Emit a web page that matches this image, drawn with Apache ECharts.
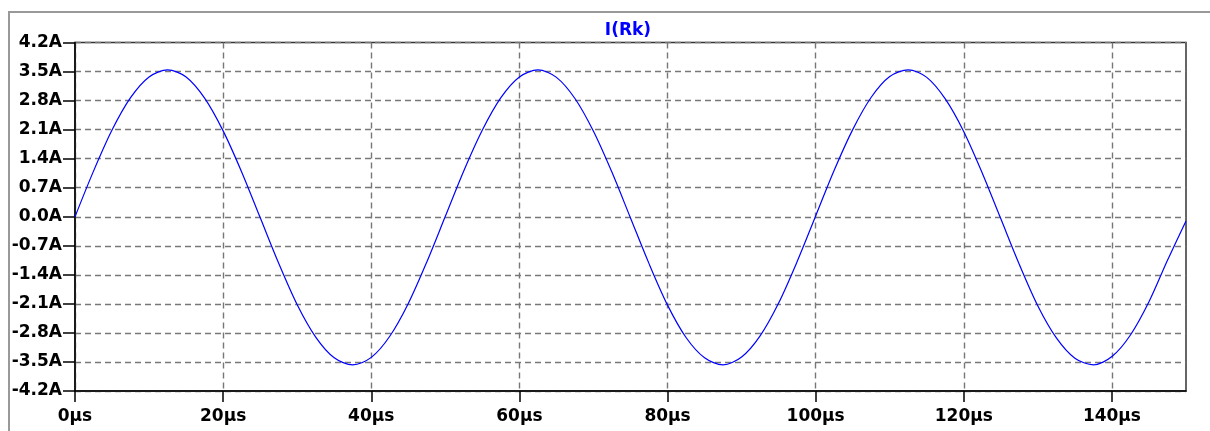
<!DOCTYPE html>
<html>
<head>
<meta charset="utf-8">
<script src="https://cdn.jsdelivr.net/npm/echarts@6/dist/echarts.min.js"></script>
<style>
html,body{margin:0;padding:0;background:#fff;}
#chart{width:1210px;height:431px;}
</style>
</head>
<body>
<div id="chart"></div>
<script>
// Time in µs
var times = [0,2.5,5,7.5,10,12.5,15,17.5,20,22.5,25,27.5,30,32.5,35,37.5,40,42.5,45,47.5,50,
  52.5,55,57.5,60,62.5,65,67.5,70,72.5,75,77.5,80,82.5,85,87.5,90,92.5,95,97.5,100,
  102.5,105,107.5,110,112.5,115,117.5,120,122.5,125,127.5,130,132.5,135,137.5,140,142.5,145,147.5,150];
// I(Rk) in A
var current = [0,1.10,2.09,2.87,3.37,3.54,3.37,2.86,2.07,1.08,-0.02,-1.12,-2.12,-2.90,-3.40,-3.57,-3.39,-2.88,-2.09,-1.09,0.01,
  1.11,2.09,2.87,3.37,3.54,3.36,2.85,2.06,1.07,-0.03,-1.13,-2.13,-2.91,-3.40,-3.57,-3.38,-2.87,-2.08,-1.08,0.02,
  1.12,2.10,2.88,3.38,3.54,3.36,2.84,2.05,1.05,-0.05,-1.15,-2.15,-2.92,-3.41,-3.57,-3.37,-2.85,-2.05,-1.05,-0.10];
var xTicks = [0,20,40,60,80,100,120,140];
var seriesName = 'I(Rk)';

var chart = echarts.init(document.getElementById('chart'), null, {renderer:'canvas'});
var lblFont = {fontFamily:'DejaVu Sans', fontWeight:'bold', fontSize:17, color:'#000'};
var option = {
  animation:false,
  backgroundColor:'#ffffff',
  graphic:[
    {type:'line', shape:{x1:8, y1:12, x2:1210, y2:12}, style:{stroke:'#999', lineWidth:2}},
    {type:'line', shape:{x1:9, y1:12, x2:9, y2:431}, style:{stroke:'#999', lineWidth:2}},
    {type:'text', x:628, y:31, style:{text:seriesName, textAlign:'center', textVerticalAlign:'middle',
      fill:'#0000ff', font:'bold 17px "DejaVu Sans"'}}
  ],
  grid:{left:75, right:24, top:42.5, bottom:40, show:true, borderColor:'#333', borderWidth:1.5, containLabel:false},
  xAxis:{
    type:'value', min:0, max:150, interval:20,
    axisLine:{show:true, onZero:false, lineStyle:{color:'#000', width:1.5}},
    axisTick:{show:true, inside:false, length:11, lineStyle:{color:'#000', width:1.5}, customValues:xTicks},
    axisLabel:Object.assign({margin:17, customValues:xTicks, formatter:function(v){return v+'µs';}}, lblFont),
    splitLine:{show:true, lineStyle:{color:'#777', type:[6,4], width:1.4}}
  },
  yAxis:{
    type:'value', min:-4.2, max:4.2, interval:0.7,
    axisLine:{show:true, onZero:false, lineStyle:{color:'#000', width:1.5}},
    axisTick:{show:true, inside:false, length:12, lineStyle:{color:'#000', width:1.5}},
    axisLabel:Object.assign({margin:13, formatter:function(v){return (Math.abs(v)<1e-9?0:v).toFixed(1)+'A';}}, lblFont),
    splitLine:{show:true, lineStyle:{color:'#777', type:[6,4], width:1.4}}
  },
  series:[{
    name:seriesName, type:'line', showSymbol:false, smooth:0.3,
    data:times.map(function(t,i){return [t,current[i]];}),
    lineStyle:{color:'#0000ff', width:1.2}
  }]
};
chart.setOption(option);
</script>
</body>
</html>
